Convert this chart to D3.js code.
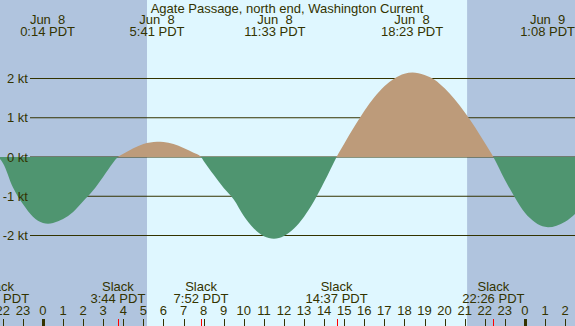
<!DOCTYPE html>
<html>
<head>
<meta charset="utf-8">
<script src="https://cdn.jsdelivr.net/npm/d3@7"></script>
<style>
  html, body { margin: 0; padding: 0; background: #fff; }
  svg { display: block; }
  text { font-family: "Liberation Sans", Arial, sans-serif; fill: #333300; white-space: pre; }
</style>
</head>
<body>
<div id="chart"></div>
<script>
// Chart title
const title = "Agate Passage, north end, Washington Current";

// Current speed in knots (hours since Jun 8 00:00 PDT)
const hours  = [-2.24, -2, -1.5, -1, -0.5, 0, 0.25, 0.5, 1, 1.5, 2, 2.5, 3, 3.25, 3.73,
                4, 4.5, 5, 5.68, 6, 6.5, 7, 7.5, 7.87,
                8, 8.5, 9, 9.5, 10, 10.5, 11, 11.5, 12, 12.5, 13, 13.5, 14, 14.3, 14.62,
                15, 15.5, 16, 16.5, 17, 17.5, 18, 18.4, 19, 19.5, 20, 20.5, 21, 21.5, 22, 22.43,
                23, 23.5, 24, 24.5, 25, 25.15, 26, 26.6];
const speeds = [0, -0.15, -0.77, -1.2, -1.52, -1.68, -1.70, -1.68, -1.58, -1.40, -1.13, -0.85, -0.50, -0.32, 0,
                0.08, 0.22, 0.33, 0.39, 0.38, 0.33, 0.23, 0.11, 0,
                -0.10, -0.45, -0.79, -1.08, -1.50, -1.82, -2.02, -2.08, -2.01, -1.82, -1.52, -1.12, -0.64, -0.33, 0,
                0.34, 0.77, 1.17, 1.52, 1.80, 2.00, 2.12, 2.15, 2.09, 1.97, 1.75, 1.47, 1.14, 0.77, 0.36, 0,
                -0.58, -1.03, -1.42, -1.66, -1.78, -1.79, -1.65, -1.40];

// Maximum current events (top labels)
const maxHours  = [0.23, 5.68, 11.55, 18.38, 25.13];
const maxDates  = ["Jun  8", "Jun  8", "Jun  8", "Jun  8", "Jun  9"];
const maxTimes  = ["0:14 PDT", "5:41 PDT", "11:33 PDT", "18:23 PDT", "1:08 PDT"];

// Slack events (bottom labels)
const slackHours = [-2.24, 3.73, 7.87, 14.62, 22.43];
const slackTimes = ["21:46 PDT", "3:44 PDT", "7:52 PDT", "14:37 PDT", "22:26 PDT"];

// Daylight (sunrise, sunset)
const daylight = [[5.18, 21.12]];

// Axis ticks
const speedTicks = [2, 1, 0, -1, -2];
const hourTicks = d3.range(-2, 27);

const W = 575, H = 326;
const C = {
  night: "#b0c4de",
  day: "#dff7ff",
  flood: "#bd9b7a",
  ebb: "#4f9570",
  ink: "#333300"
};

const x = d3.scaleLinear().domain([-2.141, 26.494]).range([0, W]);
const y = d3.scaleLinear().domain([-2, 2]).range([235.5, 78.5]);

const svg = d3.select("#chart").append("svg")
  .attr("width", W).attr("height", H);

// Night background, then daylight band
svg.append("rect").attr("width", W).attr("height", H).attr("fill", C.night);
svg.selectAll("rect.day").data(daylight).join("rect")
  .attr("class", "day")
  .attr("x", d => x(d[0])).attr("width", d => x(d[1]) - x(d[0]))
  .attr("y", 0).attr("height", H)
  .attr("fill", C.day);

// Speed grid lines (under the curve)
svg.selectAll("line.grid").data(speedTicks).join("line")
  .attr("class", "grid")
  .attr("x1", 30).attr("x2", W)
  .attr("y1", d => y(d)).attr("y2", d => y(d))
  .attr("stroke", C.ink).attr("stroke-width", 1);

// Current curve: flood above zero, ebb below
const pts = hours.map((h, i) => ({ h, v: speeds[i] }));
const area = d3.area()
  .x(d => x(d.h))
  .y0(y(0))
  .y1(d => y(d.v))
  .curve(d3.curveMonotoneX);

const defs = svg.append("defs");
defs.append("clipPath").attr("id", "above")
  .append("rect").attr("x", 0).attr("y", 0).attr("width", W).attr("height", y(0));
defs.append("clipPath").attr("id", "below")
  .append("rect").attr("x", 0).attr("y", y(0)).attr("width", W).attr("height", H - y(0));

svg.append("path").datum(pts)
  .attr("d", area).attr("fill", C.flood)
  .attr("clip-path", "url(#above)");
svg.append("path").datum(pts)
  .attr("d", area).attr("fill", C.ebb)
  .attr("clip-path", "url(#below)");

// Speed labels drawn over the fill
svg.selectAll("text.ylab").data(speedTicks).join("text")
  .attr("class", "ylab")
  .attr("x", 28).attr("y", d => y(d) + 4.5)
  .attr("text-anchor", "end")
  .attr("font-size", 13)
  .text(d => `${d} kt`);

// Title
svg.append("text")
  .attr("x", 287).attr("y", 13)
  .attr("text-anchor", "middle")
  .attr("font-size", 13)
  .text(title);

// Max current labels
const topLabels = svg.append("g");
maxHours.forEach((h, i) => {
  topLabels.append("text").attr("x", x(h)).attr("y", 24)
    .attr("text-anchor", "middle").attr("font-size", 13).text(maxDates[i]);
  topLabels.append("text").attr("x", x(h)).attr("y", 36)
    .attr("text-anchor", "middle").attr("font-size", 13).text(maxTimes[i]);
});

// Slack labels
const slackLabels = svg.append("g");
slackHours.forEach((h, i) => {
  slackLabels.append("text").attr("x", x(h)).attr("y", 291)
    .attr("text-anchor", "middle").attr("font-size", 13).text("Slack");
  slackLabels.append("text").attr("x", x(h)).attr("y", 303)
    .attr("text-anchor", "middle").attr("font-size", 13).text(slackTimes[i]);
});

// Hour ticks and labels
const hourLabel = h => String(((h % 24) + 24) % 24);
svg.selectAll("text.hlab").data(hourTicks).join("text")
  .attr("class", "hlab")
  .attr("x", d => x(d)).attr("y", 315)
  .attr("text-anchor", "middle")
  .attr("font-size", 13)
  .text(hourLabel);

svg.selectAll("line.htick").data(hourTicks).join("line")
  .attr("class", "htick")
  .attr("x1", d => Math.round(x(d)) + 0.5).attr("x2", d => Math.round(x(d)) + 0.5)
  .attr("y1", 319).attr("y2", H)
  .attr("stroke", C.ink)
  .attr("stroke-width", d => (d % 24 === 0 ? 3 : 1));

// Red slack ticks
svg.selectAll("line.stick").data(slackHours).join("line")
  .attr("class", "stick")
  .attr("x1", d => Math.round(x(d)) + 0.5).attr("x2", d => Math.round(x(d)) + 0.5)
  .attr("y1", 319).attr("y2", H)
  .attr("stroke", "#ff0000").attr("stroke-width", 1);
</script>
</body>
</html>
